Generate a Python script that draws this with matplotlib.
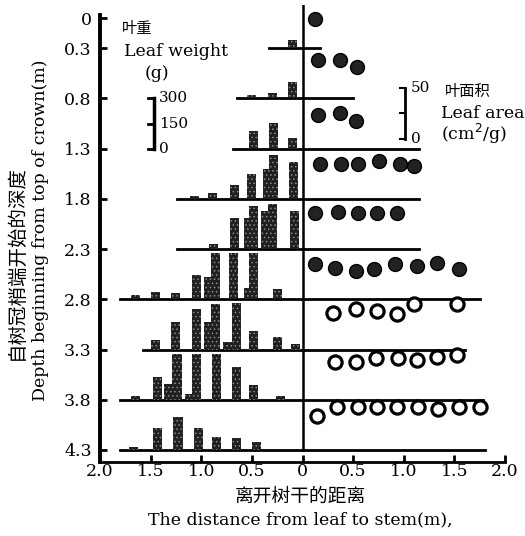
import numpy as np
import matplotlib.pyplot as plt

# depth of each crown layer (m)
depth = [0.3, 0.8, 1.3, 1.8, 2.3, 2.8, 3.3, 3.8, 4.3]
ytick_labels = ['0', '0.3', '0.8', '1.3', '1.8', '2.3', '2.8', '3.3', '3.8', '4.3']

# crown extent of each layer, left / right of stem (m)
crown_left = [0.33, 0.65, 0.69, 1.24, 1.24, 1.80, 1.58, 1.80, 1.80]
crown_right = [0.17, 0.50, 1.15, 1.15, 1.15, 1.75, 1.60, 1.78, 1.80]

# leaf weight (g) vs distance from stem (m), left side
bar_x = [
    [0.10],
    [0.50, 0.30, 0.10],
    [0.48, 0.29, 0.10],
    [1.07, 0.89, 0.67, 0.50, 0.35, 0.29, 0.09],
    [0.88, 0.67, 0.53, 0.48, 0.36, 0.30, 0.08],
    [1.65, 1.45, 1.25, 1.05, 0.93, 0.86, 0.68, 0.53, 0.48, 0.25],
    [1.45, 1.25, 1.05, 0.93, 0.86, 0.74, 0.65, 0.48, 0.25, 0.07],
    [1.65, 1.43, 1.32, 1.24, 1.12, 1.05, 0.85, 0.65, 0.48, 0.22],
    [1.67, 1.43, 1.23, 1.03, 0.85, 0.65, 0.45],
]
bar_w = [
    [50],
    [18, 30, 100],
    [108, 156, 66],
    [18, 36, 84, 150, 180, 264, 222],
    [30, 186, 186, 258, 228, 270, 228],
    [24, 42, 36, 144, 132, 276, 276, 66, 276, 60],
    [54, 162, 240, 162, 270, 42, 276, 108, 72, 30],
    [24, 138, 96, 276, 36, 276, 276, 198, 90, 24],
    [18, 132, 198, 132, 78, 72, 48],
]

# leaf area (cm2/g) vs distance from stem (m), right side
area_x = [
    [0.12],
    [0.15, 0.37, 0.54],
    [0.15, 0.37, 0.53],
    [0.17, 0.38, 0.55, 0.76, 0.96, 1.10],
    [0.12, 0.35, 0.55, 0.74, 0.93],
    [0.12, 0.32, 0.53, 0.71, 0.91, 1.13, 1.33, 1.55],
    [0.30, 0.53, 0.74, 0.93, 1.10, 1.53],
    [0.32, 0.53, 0.73, 0.94, 1.13, 1.33, 1.53],
    [0.14, 0.34, 0.55, 0.74, 0.93, 1.14, 1.34, 1.55, 1.75],
]
area_v = [
    [29],
    [38, 38, 31],
    [33, 35, 28],
    [35, 35, 35, 38, 35, 33],
    [36, 37, 36, 36, 36],
    [35, 31, 28, 30, 35, 33, 36, 30],
    [36, 40, 38, 35, 45, 45],
    [38, 38, 42, 42, 40, 43, 45],
    [34, 43, 43, 43, 43, 43, 41, 43, 43],
]
area_solid = [True, True, True, True, True, True, False, False, False]

WSCALE = 0.5 / 300   # m of depth per g
ASCALE = 0.5 / 50    # m of depth per cm2/g

plt.rcParams['font.family'] = ['DejaVu Serif', 'Noto Sans CJK SC']
plt.rcParams['hatch.color'] = '#8a8a8a'
plt.rcParams['hatch.linewidth'] = 0.6

W, H = 525, 536
fig = plt.figure(figsize=(W / 100, H / 100), dpi=100)
ax = fig.add_axes([100 / W, 1 - 462 / H, 405 / W, 457 / H])
ax.set_xlim(-2.0, 2.0)
ax.set_ylim(4.42, -0.13)

# stem
ax.plot([0, 0], [-0.13, depth[-1]], color='k', lw=1.8)

for i, d in enumerate(depth):
    ax.plot([-crown_left[i], 0], [d, d], color='k', lw=2)
    ax.plot([0, crown_right[i]], [d, d], color='k', lw=2)
    xs = -np.array(bar_x[i])
    hs = np.array(bar_w[i]) * WSCALE
    ax.bar(xs, -hs, bottom=d, width=0.09, color='#202020', hatch='....', zorder=3)
    ys = d - np.array(area_v[i]) * ASCALE
    if area_solid[i]:
        ax.plot(area_x[i], ys, 'o', ms=10, mfc='#222222', mec='k', mew=1, ls='none', zorder=4)
    else:
        ax.plot(area_x[i], ys, 'o', ms=9.5, mfc='white', mec='k', mew=2.3, ls='none', zorder=4)

# leaf weight scale bracket
xb = -1.47
b0 = 1.3
for g in [0, 150, 300]:
    ax.plot([xb - 0.06, xb], [b0 - g * WSCALE] * 2, color='k', lw=2)
    ax.text(xb + 0.05, b0 - g * WSCALE, str(g), fontsize=11, va='center', ha='left')
ax.plot([xb, xb], [b0, b0 - 300 * WSCALE], color='k', lw=2.5)

# leaf area scale bracket
xa = 1.01
a0 = 1.2
for v in [0, 25, 50]:
    ax.plot([xa - 0.05, xa], [a0 - v * ASCALE] * 2, color='k', lw=1.5)
ax.plot([xa, xa], [a0, a0 - 50 * ASCALE], color='k', lw=2)
ax.text(xa + 0.06, a0 - 50 * ASCALE, '50', fontsize=11, va='center', ha='left')
ax.text(xa + 0.06, a0, '0', fontsize=11, va='center', ha='left')

ax.set_yticks([0] + depth)
ax.set_yticklabels(ytick_labels)
ax.set_xticks([-2, -1.5, -1, -0.5, 0, 0.5, 1, 1.5, 2])
ax.set_xticklabels(['2.0', '1.5', '1.0', '0.5', '0', '0.5', '1.0', '1.5', '2.0'])
ax.tick_params(axis='both', direction='in', length=5, width=2, labelsize=12.5)
ax.tick_params(axis='y', pad=6)
ax.tick_params(axis='x', pad=1)

for s in ['top', 'right']:
    ax.spines[s].set_visible(False)
ax.spines['left'].set_linewidth(2.8)
ax.spines['left'].set_bounds(-0.03, 4.42)
ax.spines['bottom'].set_linewidth(2)

cjk = ['Noto Sans CJK SC', 'DejaVu Sans']


def px(x, y):
    return x / W, 1 - y / H


fig.text(*px(137, 28), '叶重', family=cjk, fontsize=11, ha='center', va='center')
fig.text(*px(176, 51), 'Leaf weight', fontsize=12.5, ha='center', va='center')
fig.text(*px(157, 74), '(g)', fontsize=12.5, ha='center', va='center')
fig.text(*px(445, 92), '叶面积', family=cjk, fontsize=11, ha='left', va='center')
fig.text(*px(441, 113), 'Leaf area', fontsize=12.5, ha='left', va='center')
fig.text(*px(441, 134), '(cm$^2$/g)', fontsize=12.5, ha='left', va='center')

fig.text(*px(16, 262), '自树冠梢端开始的深度', family=cjk, fontsize=14,
         rotation=90, ha='center', va='center')
fig.text(*px(41, 230), 'Depth beginning from top of crown(m)', fontsize=12.5,
         rotation=90, ha='center', va='center')
fig.text(*px(300, 496), '离开树干的距离', family=cjk, fontsize=13.5, ha='center', va='center')
fig.text(*px(300, 520), 'The distance from leaf to stem(m),', fontsize=12.5,
         ha='center', va='center')

fig.savefig('out.png', dpi=100)
